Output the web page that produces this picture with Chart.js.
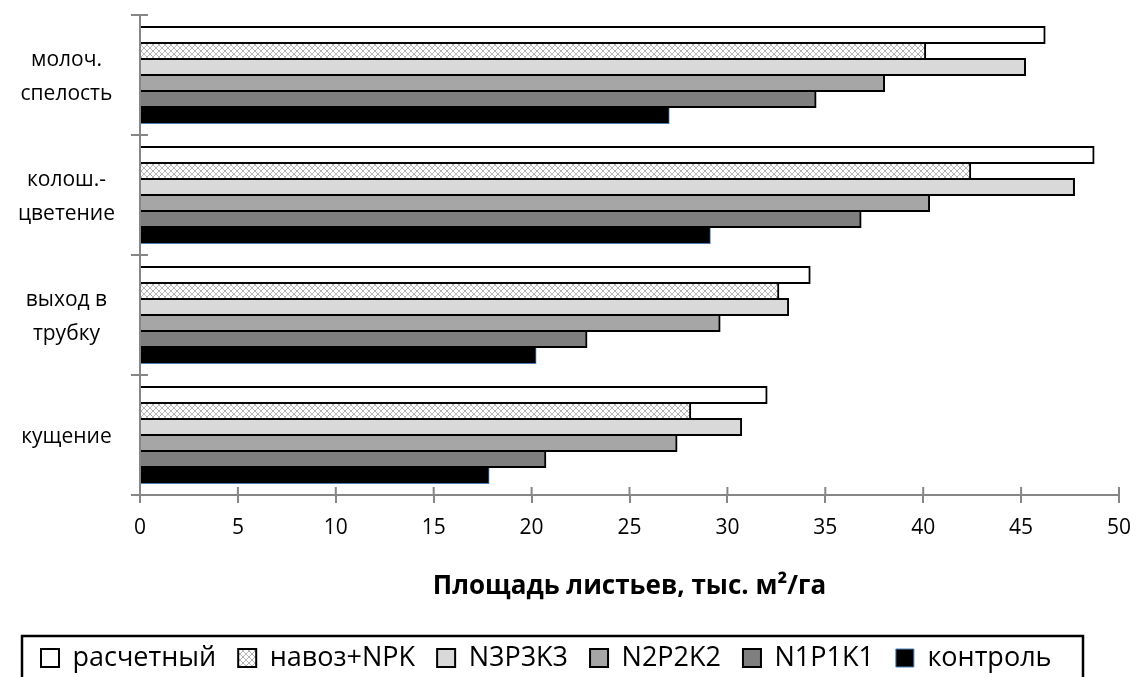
<!DOCTYPE html>
<html>
<head>
<meta charset="utf-8">
<script src="https://cdn.jsdelivr.net/npm/chart.js@4/dist/chart.umd.min.js"></script>
<style>
  html, body { margin: 0; padding: 0; background: #fff; }
  #wrap { width: 1137px; height: 677px; }
</style>
</head>
<body>
<div id="wrap"><canvas id="c" width="1137" height="677"></canvas></div>
<script>
// Growth stages (top to bottom)
const stages = [['молоч.', 'спелость'], ['колош.-', 'цветение'], ['выход в', 'трубку'], 'кущение'];

// Fertiliser variants
const seriesNames = ['расчетный', 'навоз+NPK', 'N3P3K3', 'N2P2K2', 'N1P1K1', 'контроль'];

// Leaf area, thousand m²/ha, per stage
const raschetny = [46.2, 48.7, 34.2, 32.0];
const navozNPK  = [40.1, 42.4, 32.6, 28.1];
const n3p3k3    = [45.2, 47.7, 33.1, 30.7];
const n2p2k2    = [38.0, 40.3, 29.6, 27.4];
const n1p1k1    = [34.5, 36.8, 22.8, 20.7];
const kontrol   = [27.0, 29.1, 20.2, 17.8];

const axisTitle = 'Площадь листьев, тыс. м²/га';
const xMin = 0, xMax = 50, xStep = 5;

const canvas = document.getElementById('c');
const ctx = canvas.getContext('2d');

// light cross-hatch fill for the manure series
function crossHatch() {
  const p = document.createElement('canvas');
  p.width = 6; p.height = 6;
  const g = p.getContext('2d');
  g.fillStyle = '#ffffff';
  g.fillRect(0, 0, 6, 6);
  g.strokeStyle = '#b4b4b4';
  g.lineWidth = 1;
  g.beginPath();
  g.moveTo(0, 0); g.lineTo(6, 6);
  g.moveTo(6, 0); g.lineTo(0, 6);
  g.stroke();
  return ctx.createPattern(p, 'repeat');
}

const AXIS_GREY = '#868686';
const FONT = 'Open Sans';
const LEGEND_PAD = 22;

const fills = ['#ffffff', crossHatch(), '#d9d9d9', '#a6a6a6', '#7f7f7f', '#000000'];
const edges = ['#000', '#000', '#000', '#000', '#000', '#4a7ebb'];
const edgeW = [2, 2, 2, 2, 2, 1];
const values = [raschetny, navozNPK, n3p3k3, n2p2k2, n1p1k1, kontrol];

const datasets = seriesNames.map((name, i) => ({
  label: name,
  data: values[i],
  backgroundColor: fills[i],
  borderColor: edges[i],
  borderWidth: edgeW[i],
  inflateAmount: 1,
  categoryPercentage: 0.8,
  barPercentage: 1.0
}));

// tick marks that cross the axis lines, and the legend frame
const axisDecor = {
  id: 'axisDecor',
  afterLayout(chart) {
    const lg = chart.legend;
    if (lg && lg.lineWidths && lg.lineWidths.length) {
      const start = (lg.left + LEGEND_PAD + lg.right - lg.lineWidths[0]) / 2;
      const dx = 41 - start;
      lg.left += dx; lg.right += dx;
      lg.top += 4.5; lg.bottom += 4.5;
    }
  },
  afterDraw(chart) {
    const c = chart.ctx;
    const xs = chart.scales.x, ys = chart.scales.y;
    const area = chart.chartArea;
    c.save();
    c.strokeStyle = AXIS_GREY;
    c.lineWidth = 2;
    c.beginPath();
    xs.ticks.forEach((t, i) => {
      const px = xs.getPixelForTick(i);
      c.moveTo(px, area.bottom - 8);
      c.lineTo(px, area.bottom);
    });
    for (let i = 0; i <= stages.length; i++) {
      const py = ys.getPixelForValue(i - 0.5);
      c.moveTo(area.left, py);
      c.lineTo(area.left + 8, py);
    }
    c.stroke();
    // legend frame
    c.strokeStyle = '#000';
    c.lineWidth = 2.5;
    c.strokeRect(22, 636, 1083 - 22, 50);
    c.restore();
  }
};

new Chart(canvas, {
  type: 'bar',
  data: { labels: stages, datasets },
  plugins: [axisDecor],
  options: {
    indexAxis: 'y',
    responsive: false,
    animation: false,
    layout: { padding: { top: 15, right: 18, left: 0, bottom: 0 } },
    scales: {
      x: {
        min: xMin, max: xMax,
        ticks: { stepSize: xStep, color: '#000', padding: 12, font: { family: FONT, size: 21 } },
        grid: { drawOnChartArea: false, tickLength: 8, color: AXIS_GREY, lineWidth: 2 },
        border: { color: AXIS_GREY, width: 2 },
        title: {
          display: true, text: axisTitle, color: '#000',
          font: { family: FONT, size: 26, weight: 'bold' },
          padding: { top: 0, bottom: 16 }
        },
        afterFit(s) { s.height = 123; s.paddingLeft = 0; s.paddingRight = 0; }
      },
      y: {
        grid: { offset: true, drawOnChartArea: false, tickLength: 9, color: AXIS_GREY, lineWidth: 2 },
        border: { color: AXIS_GREY, width: 2 },
        ticks: { crossAlign: 'center', padding: 16, labelOffset: 2, color: '#000', font: { family: FONT, size: 21, lineHeight: 1.6 } },
        afterFit(s) { s.width = 140; s.paddingTop = 0; s.paddingBottom = 0; }
      }
    },
    plugins: {
      legend: {
        position: 'bottom',
        labels: { boxWidth: 18, boxHeight: 18, padding: LEGEND_PAD, color: '#000', font: { family: FONT, size: 27 } }
      },
      tooltip: { enabled: false }
    }
  }
});
</script>
</body>
</html>
